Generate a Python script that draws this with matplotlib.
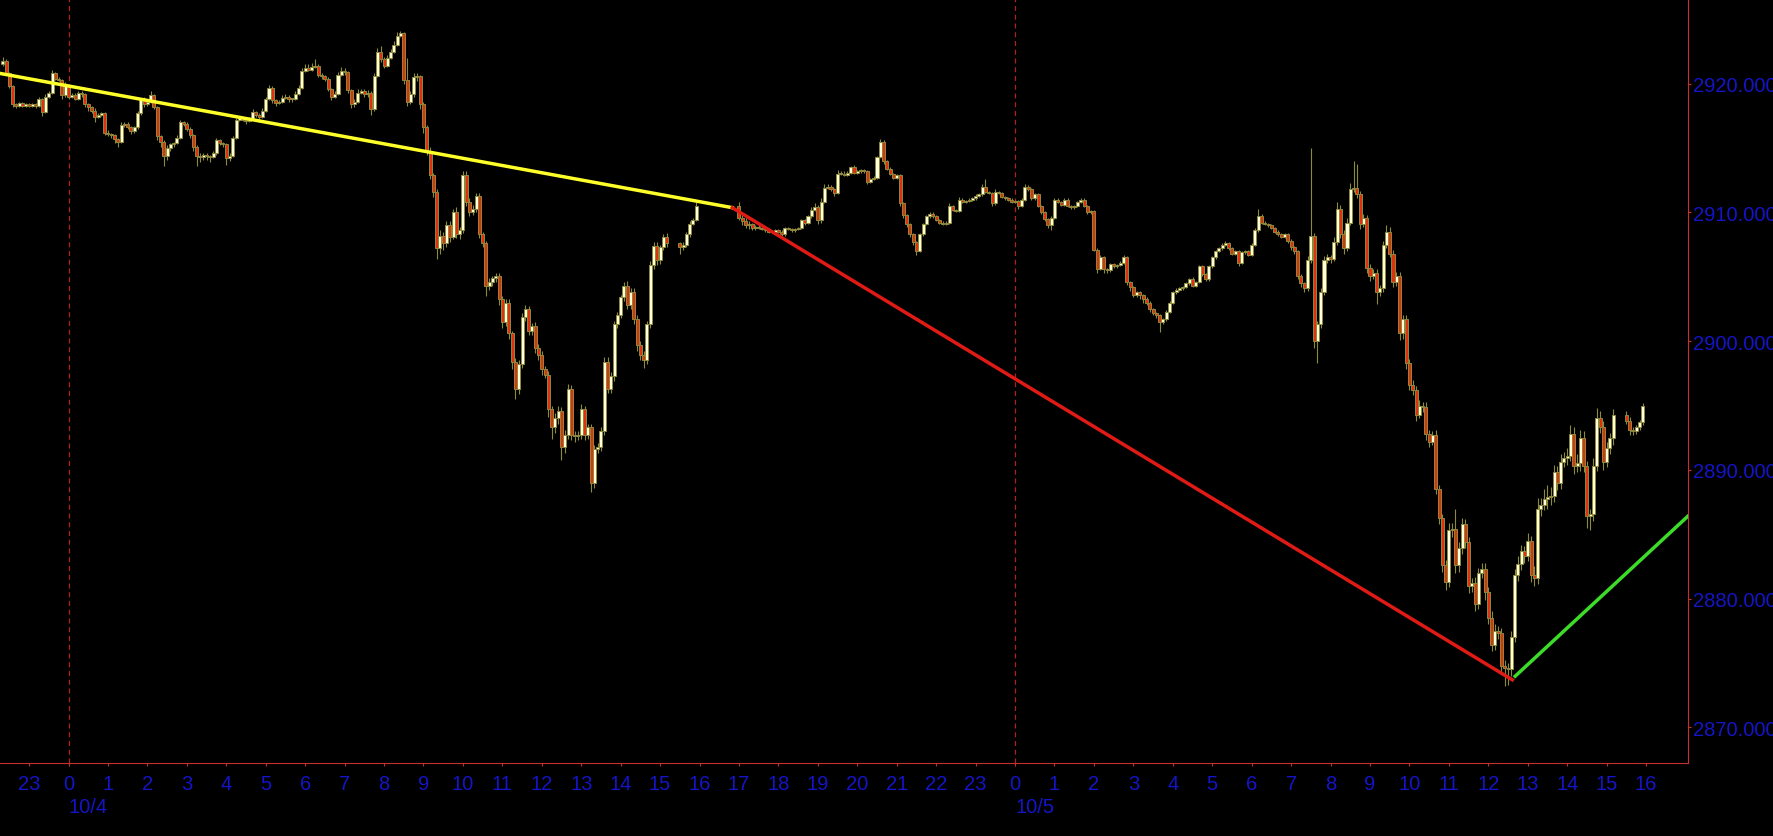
import numpy as np
import matplotlib.pyplot as plt

plt.rcParams['font.family'] = ['Liberation Sans', 'DejaVu Sans']

# ==============================
# Data: 5-minute bars, time in hours counted from 10/4 00:00
# ==============================

session_starts = [-20 / 12, 15.5, 17.0, 39.5]
session_bars = [203, 6, 267, 6]
first_open = 2921.5

closes = [
    # 10/3 22:20 - 23:55
    2921.8, 2920.8, 2919.8, 2918.4, 2918.3, 2918.5, 2918.3, 2918.4, 2918.3, 2918.4,
    2918.3, 2918.8, 2917.8, 2919.0, 2919.3, 2920.8, 2920.4, 2920.3, 2919.1, 2919.9,
    # 10/4 00 - 15:10
    2919.0, 2919.1, 2918.8, 2919.3, 2919.2, 2918.4, 2918.2, 2917.9, 2917.4, 2917.6, 2917.7, 2916.2,
    2916.1, 2916.0, 2915.7, 2915.5, 2916.8, 2916.9, 2916.6, 2916.3, 2916.6, 2917.7, 2918.8, 2918.4,
    2918.6, 2919.1, 2918.2, 2915.9, 2915.5, 2914.4, 2915.0, 2915.3, 2915.4, 2915.8, 2917.0, 2916.9,
    2916.5, 2916.0, 2915.1, 2914.4, 2914.3, 2914.5, 2914.4, 2914.3, 2914.6, 2915.6, 2915.4, 2915.3,
    2914.2, 2914.4, 2915.8, 2917.2, 2917.3, 2917.2, 2917.1, 2917.3, 2917.8, 2917.6, 2917.4, 2917.9,
    2918.8, 2919.7, 2918.7, 2918.5, 2918.6, 2918.9, 2919.0, 2918.8, 2918.8, 2919.2, 2919.7, 2921.0,
    2921.2, 2921.1, 2921.3, 2921.4, 2920.7, 2920.6, 2920.4, 2919.6, 2919.0, 2919.2, 2920.7, 2921.0,
    2920.9, 2919.5, 2918.4, 2918.6, 2919.3, 2919.4, 2919.2, 2919.3, 2918.0, 2920.6, 2922.5, 2921.9,
    2921.4, 2922.0, 2922.5, 2923.0, 2923.7, 2923.9, 2920.3, 2918.6, 2919.2, 2920.5, 2920.6, 2918.4,
    2916.6, 2914.8, 2912.9, 2911.6, 2907.2, 2908.2, 2907.6, 2909.0, 2908.1, 2910.0, 2908.3, 2908.6,
    2912.9, 2910.8, 2910.0, 2910.3, 2911.3, 2908.3, 2907.6, 2904.3, 2904.6, 2904.9, 2905.1, 2903.3,
    2901.5, 2903.0, 2900.6, 2898.4, 2896.3, 2898.2, 2901.9, 2902.5, 2900.8, 2901.2, 2899.5, 2898.9,
    2897.8, 2897.4, 2894.7, 2893.3, 2894.0, 2894.6, 2891.8, 2892.7, 2896.3, 2892.7, 2892.6, 2892.7,
    2894.7, 2892.7, 2893.3, 2889.0, 2891.6, 2891.8, 2893.0, 2898.4, 2896.3, 2897.3, 2901.3, 2902.0,
    2903.4, 2904.3, 2902.8, 2903.8, 2901.7, 2899.7, 2898.9, 2898.5, 2901.3, 2905.9, 2907.4, 2906.3,
    2907.3, 2908.1, 2907.6,
    # 10/4 15:30 - 15:55
    2907.3, 2907.5, 2908.3, 2909.1, 2909.4, 2910.5,
    # 10/4 17:00 - 10/5 15:10
    2909.6, 2909.3, 2909.0, 2909.1, 2908.8, 2908.9, 2908.8, 2908.7, 2908.6, 2908.5, 2908.5, 2908.6,
    2908.5, 2908.3, 2908.8, 2908.7, 2908.6, 2908.7, 2908.8, 2909.4, 2909.2, 2909.7, 2910.2, 2910.4,
    2909.4, 2910.8, 2911.9, 2912.0, 2911.8, 2911.5, 2913.0, 2913.0, 2912.9, 2913.1, 2913.5, 2913.1,
    2913.2, 2913.3, 2913.2, 2912.4, 2912.6, 2912.7, 2914.3, 2915.5, 2914.0, 2913.4, 2913.0, 2912.7,
    2912.9, 2910.7, 2909.8, 2909.1, 2908.3, 2907.7, 2907.0, 2908.3, 2909.1, 2909.7, 2909.9, 2909.7,
    2909.4, 2909.2, 2909.1, 2909.2, 2910.5, 2910.2, 2910.1, 2911.0, 2910.8, 2910.9, 2911.0, 2911.1,
    2911.3, 2911.4, 2912.0, 2911.6, 2911.5, 2910.7, 2911.6, 2911.5, 2911.2, 2911.1, 2911.0, 2910.8,
    2910.9, 2910.5, 2911.0, 2912.0, 2911.8, 2911.1, 2911.4, 2910.5, 2910.0, 2909.5, 2909.0, 2909.6,
    2911.0, 2910.8, 2910.6, 2911.0, 2910.5, 2910.4, 2910.5, 2910.8, 2911.0, 2910.5, 2910.0, 2910.1,
    2907.1, 2905.6, 2906.5, 2905.6, 2905.5, 2906.0, 2905.8, 2905.9, 2906.1, 2906.5, 2904.6, 2904.2,
    2903.6, 2903.8, 2903.6, 2903.3, 2903.0, 2902.5, 2902.2, 2902.0, 2901.5, 2901.7, 2902.3, 2903.0,
    2903.8, 2904.0, 2904.1, 2904.2, 2904.5, 2904.8, 2904.3, 2904.6, 2905.8, 2905.2, 2904.8, 2905.8,
    2906.5, 2907.0, 2907.2, 2907.5, 2907.6, 2907.2, 2906.8, 2907.0, 2906.1, 2906.9, 2907.0, 2906.7,
    2907.5, 2908.6, 2909.7, 2909.2, 2909.1, 2909.0, 2908.8, 2908.5, 2908.3, 2908.1, 2908.3, 2907.8,
    2907.3, 2907.0, 2905.1, 2904.5, 2904.1, 2906.3, 2908.2, 2900.0, 2901.3, 2903.8, 2906.3, 2906.5,
    2906.4, 2907.7, 2910.3, 2908.3, 2907.2, 2909.2, 2911.8, 2911.9, 2911.4, 2909.1, 2909.6, 2905.7,
    2905.1, 2905.3, 2903.8, 2904.1, 2907.5, 2908.5, 2906.8, 2904.6, 2905.1, 2900.6, 2901.7, 2898.3,
    2896.6, 2896.2, 2894.3, 2895.0, 2894.9, 2892.8, 2892.2, 2892.7, 2888.5, 2886.3, 2882.6, 2881.3,
    2885.3, 2885.4, 2882.6, 2883.9, 2885.8, 2884.4, 2881.0, 2881.2, 2879.6, 2882.0, 2882.3, 2880.5,
    2878.5, 2876.4, 2877.5, 2877.3, 2874.8, 2874.6, 2874.5, 2877.0, 2881.8, 2882.7, 2883.7, 2883.3,
    2884.5, 2881.8, 2881.6, 2887.0, 2887.3, 2887.7, 2887.9, 2888.0, 2889.8, 2889.0, 2890.6, 2890.9,
    2891.1, 2892.8, 2890.3, 2890.5, 2892.5, 2890.3, 2886.4, 2886.6, 2890.3, 2894.0, 2893.3, 2890.6,
    2891.7, 2892.5, 2894.3,
    # 10/5 15:30 - 15:55
    2893.8, 2893.1, 2893.0, 2893.3, 2893.7, 2895.0,
]

# upper / lower shadow length of each bar (points above / below the body)
wick_up = [
    0.3, 0.1, 0.1, 0.1, 0.1, 0.1, 0.1, 0.1, 0.1, 0.1,
    0.1, 0.2, 0.1, 0.2, 0.1, 0.3, 0.1, 0.1, 0.1, 0.2,
    0.1, 0.2, 0.2, 0.1, 0.1, 0.1, 0.1, 0.1, 0.2, 0.1, 0.1, 0.1,
    0.2, 0.1, 0.1, 0.1, 0.2, 0.1, 0.1, 0.1, 0.1, 0.2, 0.1, 0.2,
    0.1, 0.3, 0.1, 0.1, 0.1, 0.1, 0.2, 0.1, 0.1, 0.2, 0.2, 0.1,
    0.1, 0.1, 0.1, 0.1, 0.2, 0.1, 0.1, 0.1, 0.2, 0.2, 0.1, 0.1,
    0.1, 0.2, 0.1, 0.1, 0.2, 0.1, 0.1, 0.1, 0.2, 0.1, 0.1, 0.2,
    0.2, 0.2, 0.1, 0.1, 0.1, 0.2, 0.2, 0.1, 0.1, 0.2, 0.2, 0.2,
    0.3, 0.3, 0.3, 0.5, 0.1, 0.1, 0.1, 0.1, 0.1, 0.2, 0.2, 0.3,
    0.2, 0.1, 0.1, 0.2, 0.3, 0.2, 0.2, 0.2, 0.1, 0.2, 0.3, 0.4,
    0.2, 0.2, 0.2, 0.3, 0.3, 0.2, 0.1, 1.7, 0.2, 0.3, 0.2, 0.1,
    0.2, 0.2, 0.3, 0.2, 0.2, 0.4, 0.3, 0.3, 0.3, 0.3, 0.4, 0.3,
    0.3, 0.3, 0.3, 0.3, 0.2, 0.2, 0.2, 0.2, 0.3, 0.2, 0.2, 0.2,
    0.2, 0.3, 0.3, 0.2, 0.3, 0.3, 0.3, 0.3, 0.2, 0.2, 0.3, 0.3,
    0.3, 0.3, 0.3, 0.3, 0.4, 0.4, 0.3, 0.4, 0.4, 0.3, 0.3, 0.3,
    0.4, 0.3, 0.3, 0.3, 0.3, 0.3, 0.3, 0.4, 0.4, 0.3, 0.3, 0.3,
    0.2, 0.3, 0.4, 0.3, 0.3, 0.3, 0.3, 0.3, 0.3, 0.3, 0.3, 0.3,
    0.2, 0.2, 0.3,
    0.1, 0.2, 0.2, 0.2, 0.2, 0.3,
    0.3, 0.2, 0.3, 0.2, 0.1, 0.1, 0.2, 0.1, 0.1, 0.1, 0.1, 0.1,
    0.1, 0.1, 0.1, 0.1, 0.1, 0.1, 0.1, 0.1, 0.1, 0.1, 0.2, 0.3,
    0.2, 0.3, 0.3, 0.2, 0.1, 0.1, 0.3, 0.2, 0.2, 0.1, 0.1, 0.2,
    0.1, 0.1, 0.1, 0.1, 0.1, 0.1, 0.1, 0.2, 0.1, 0.1, 0.1, 0.1,
    0.1, 0.1, 0.1, 0.1, 0.1, 0.1, 0.1, 0.1, 0.1, 0.1, 0.1, 0.1,
    0.1, 0.1, 0.1, 0.1, 0.2, 0.1, 0.1, 0.2, 0.1, 0.1, 0.1, 0.1,
    0.1, 0.1, 0.2, 0.6, 0.1, 0.1, 0.2, 0.1, 0.1, 0.1, 0.1, 0.1,
    0.1, 0.1, 0.1, 0.2, 0.1, 0.1, 0.1, 0.1, 0.1, 0.1, 0.1, 0.1,
    0.1, 0.1, 0.1, 0.1, 0.1, 0.1, 0.1, 0.1, 0.1, 0.1, 0.1, 0.1,
    0.1, 0.1, 0.2, 0.1, 0.1, 0.1, 0.1, 0.1, 0.1, 0.2, 0.1, 0.1,
    0.1, 0.1, 0.1, 0.1, 0.1, 0.1, 0.1, 0.1, 0.1, 0.1, 0.1, 0.1,
    0.1, 0.1, 0.1, 0.1, 0.1, 0.1, 0.2, 0.1, 0.1, 0.1, 0.1, 0.1,
    0.1, 0.1, 0.1, 0.1, 0.2, 0.1, 0.1, 0.1, 0.1, 0.1, 0.1, 0.1,
    0.1, 0.2, 0.6, 0.2, 0.1, 0.1, 0.1, 0.1, 0.1, 0.1, 0.1, 0.1,
    0.1, 0.1, 0.1, 0.1, 0.1, 0.3, 6.8, 0.2, 0.3, 0.3, 0.3, 0.3,
    0.2, 0.4, 0.5, 0.3, 0.3, 0.4, 0.5, 2.1, 1.9, 0.3, 0.3, 0.2,
    0.3, 0.3, 0.3, 0.3, 0.3, 0.5, 0.4, 0.3, 0.3, 0.3, 0.3, 0.3,
    0.3, 0.4, 0.3, 0.4, 0.3, 0.4, 0.3, 0.3, 0.4, 0.3, 0.3, 0.4,
    0.6, 0.5, 1.6, 0.5, 0.5, 0.4, 0.4, 0.4, 0.5, 0.4, 0.5, 0.5,
    0.4, 0.5, 0.5, 0.4, 0.4, 0.4, 0.4, 0.5, 0.5, 0.6, 0.5, 0.4,
    0.6, 0.4, 0.7, 0.8, 0.5, 0.8, 0.9, 0.7, 0.6, 0.5, 0.6, 0.5,
    0.6, 0.7, 0.5, 0.7, 0.6, 0.5, 0.4, 0.4, 0.6, 0.8, 0.6, 0.5,
    0.5, 0.4, 0.4,
    0.3, 0.3, 0.2, 0.2, 0.2, 0.2,
]

wick_dn = [
    0.1, 0.1, 0.1, 0.2, 0.2, 0.1, 0.1, 0.1, 0.1, 0.1,
    0.2, 0.1, 0.3, 0.1, 0.1, 0.1, 0.1, 0.1, 0.3, 0.1,
    0.2, 0.1, 0.1, 0.1, 0.2, 0.2, 0.3, 0.2, 0.4, 0.1, 0.1, 0.2,
    0.2, 0.2, 0.3, 0.4, 0.1, 0.2, 0.1, 0.2, 0.1, 0.1, 0.1, 0.2,
    0.1, 0.1, 0.2, 0.3, 0.4, 0.8, 0.3, 0.2, 0.2, 0.1, 0.1, 0.2,
    0.2, 0.2, 0.3, 0.8, 0.4, 0.2, 0.3, 0.4, 0.1, 0.1, 0.2, 0.2,
    0.5, 0.2, 0.1, 0.1, 0.1, 0.1, 0.2, 0.1, 0.1, 0.2, 0.2, 0.1,
    0.1, 0.1, 0.2, 0.2, 0.1, 0.1, 0.1, 0.2, 0.2, 0.1, 0.1, 0.1,
    0.1, 0.1, 0.1, 0.1, 0.2, 0.2, 0.2, 0.2, 0.3, 0.1, 0.1, 0.1,
    0.2, 0.2, 0.3, 0.2, 0.1, 0.1, 0.2, 0.2, 0.4, 0.1, 0.1, 0.2,
    0.2, 0.1, 0.1, 0.1, 0.1, 0.1, 0.3, 0.3, 0.2, 0.2, 0.3, 0.4,
    0.4, 0.3, 0.3, 0.4, 0.8, 0.4, 0.5, 0.3, 0.4, 0.2, 0.3, 0.4,
    0.2, 0.3, 0.3, 0.2, 0.3, 0.3, 0.3, 0.8, 0.3, 0.3, 0.3, 0.5,
    0.5, 0.3, 0.4, 0.6, 0.8, 0.4, 0.3, 0.3, 0.3, 0.3, 0.4, 0.4,
    0.4, 0.3, 0.6, 0.9, 0.4, 0.4, 1.0, 0.5, 0.3, 0.4, 0.4, 0.3,
    0.3, 0.4, 0.3, 0.7, 0.4, 0.3, 0.3, 0.3, 0.3, 0.3, 0.4, 0.3,
    0.2, 0.3, 0.3, 0.3, 0.4, 0.5, 0.4, 0.6, 0.3, 0.3, 0.3, 0.4,
    0.3, 0.2, 0.3,
    0.5, 0.2, 0.2, 0.2, 0.1, 0.1,
    0.2, 0.3, 0.2, 0.3, 0.2, 0.2, 0.1, 0.1, 0.1, 0.1, 0.1, 0.1,
    0.1, 0.1, 0.1, 0.1, 0.1, 0.1, 0.1, 0.1, 0.2, 0.1, 0.1, 0.1,
    0.3, 0.2, 0.1, 0.1, 0.1, 0.2, 0.1, 0.1, 0.1, 0.1, 0.1, 0.1,
    0.1, 0.1, 0.1, 0.2, 0.1, 0.1, 0.1, 0.1, 0.2, 0.1, 0.1, 0.1,
    0.1, 0.2, 0.2, 0.2, 0.2, 0.2, 0.3, 0.1, 0.1, 0.1, 0.1, 0.1,
    0.1, 0.1, 0.1, 0.1, 0.1, 0.1, 0.1, 0.1, 0.1, 0.1, 0.1, 0.1,
    0.1, 0.1, 0.1, 0.1, 0.1, 0.2, 0.1, 0.1, 0.1, 0.1, 0.1, 0.1,
    0.1, 0.2, 0.1, 0.1, 0.1, 0.1, 0.1, 0.1, 0.1, 0.2, 0.2, 0.4,
    0.1, 0.1, 0.1, 0.1, 0.1, 0.1, 0.1, 0.1, 0.1, 0.1, 0.1, 0.1,
    0.1, 0.3, 0.1, 0.3, 0.2, 0.1, 0.1, 0.1, 0.1, 0.1, 0.2, 0.3,
    0.2, 0.2, 0.3, 0.3, 0.2, 0.2, 0.2, 0.2, 0.8, 0.2, 0.1, 0.1,
    0.1, 0.1, 0.1, 0.1, 0.1, 0.1, 0.1, 0.1, 0.1, 0.1, 0.1, 0.1,
    0.1, 0.1, 0.1, 0.1, 0.1, 0.1, 0.1, 0.1, 0.3, 0.1, 0.1, 0.1,
    0.1, 0.1, 0.1, 0.1, 0.1, 0.1, 0.1, 0.1, 0.1, 0.1, 0.1, 0.2,
    0.2, 0.2, 0.3, 0.3, 0.3, 0.2, 0.2, 0.5, 1.7, 0.3, 0.2, 0.2,
    0.3, 0.2, 0.2, 0.3, 0.4, 0.2, 0.2, 0.2, 0.3, 0.4, 0.2, 0.4,
    0.4, 0.3, 0.9, 0.3, 0.3, 0.3, 0.3, 0.4, 0.3, 0.5, 0.4, 0.5,
    0.4, 0.4, 0.5, 0.3, 0.4, 0.5, 0.4, 0.3, 0.4, 0.5, 0.5, 0.6,
    0.4, 0.5, 0.6, 0.5, 0.4, 0.5, 0.6, 0.5, 0.6, 0.4, 0.4, 0.6,
    0.5, 0.5, 0.4, 0.4, 0.6, 1.4, 1.2, 0.5, 0.4, 0.4, 0.5, 0.5,
    0.4, 0.5, 0.6, 0.5, 0.6, 0.4, 0.7, 0.6, 0.5, 0.6, 0.5, 0.4,
    0.5, 0.4, 0.6, 0.5, 0.6, 0.5, 0.9, 1.1, 0.6, 0.4, 0.4, 0.6,
    0.4, 0.5, 0.6,
    0.2, 0.4, 0.3, 0.2, 0.2, 0.2,
]

# trend lines drawn on the chart: (hours, price) end points
yellow_line_t = [-1.74, 16.83]
yellow_line_p = [2920.8, 2910.37]
red_line_t = [16.83, 36.61]
red_line_p = [2910.37, 2873.69]
green_line_t = [36.68, 41.2]
green_line_p = [2873.97, 2886.8]

price_ticks = [2870, 2880, 2890, 2900, 2910, 2920]
hour_ticks = list(range(-1, 41))
date_labels = ["10/4", "10/5"]
date_hours = [0, 24]

UP_FILL = "#FFFFDC"
DOWN_FILL = "#E0300E"
EDGE = "#8E8A3C"
AXIS_RED = "#C83030"
LABEL_BLUE = "#1414C8"


# ==============================
# Build OHLC
# ==============================

times = np.concatenate([s + np.arange(n) / 12 for s, n in zip(session_starts, session_bars)])
closes = np.array(closes)
opens = np.concatenate([[first_open], closes[:-1]])
highs = np.maximum(opens, closes) + np.array(wick_up)
lows = np.minimum(opens, closes) - np.array(wick_dn)


# ==============================
# Chart
# ==============================

fig = plt.figure(figsize=(17.73, 8.37), dpi=100, facecolor="black")
ax = fig.add_axes([0, 73 / 837, 1688 / 1773, 764 / 837], facecolor="black")

ax.vlines(times, lows, highs, color=EDGE, linewidth=0.8, zorder=2)

up = closes >= opens
body_bottom = np.minimum(opens, closes)
body_height = np.maximum(np.abs(closes - opens), 0.08)
ax.bar(times[up], body_height[up], bottom=body_bottom[up], width=0.92 / 12,
       color=UP_FILL, edgecolor=EDGE, linewidth=0.7, zorder=3)
ax.bar(times[~up], body_height[~up], bottom=body_bottom[~up], width=0.92 / 12,
       color=DOWN_FILL, edgecolor=EDGE, linewidth=0.7, zorder=3)

for h in date_hours:
    ax.axvline(h, color="#B02222", linewidth=0.9, linestyle=(0, (4, 3)), zorder=1)

ax.plot(yellow_line_t, yellow_line_p, color="#FFFF2A", linewidth=2.5, zorder=4)
ax.plot(red_line_t, red_line_p, color="#E01A14", linewidth=2.5, zorder=4)
ax.plot(green_line_t, green_line_p, color="#3CDC28", linewidth=2.5, zorder=4)

ax.set_xlim(-1.737, 41.063)
ax.set_ylim(2867.23, 2926.58)

ax.set_xticks(hour_ticks)
ax.set_xticklabels([str(h % 24) for h in hour_ticks])
ax.yaxis.tick_right()
ax.set_yticks(price_ticks)
ax.set_yticklabels([f"{p:.3f}" for p in price_ticks])

ax.tick_params(axis="x", colors=AXIS_RED, labelcolor=LABEL_BLUE, length=2.2,
               width=0.8, pad=6, labelsize=14.5)
ax.tick_params(axis="y", colors=AXIS_RED, labelcolor=LABEL_BLUE, length=1.8,
               width=0.8, pad=1.5, labelsize=14.5)

for side in ["left", "top"]:
    ax.spines[side].set_visible(False)
for side in ["right", "bottom"]:
    ax.spines[side].set_color(AXIS_RED)
    ax.spines[side].set_linewidth(0.8)

for h, lab in zip(date_hours, date_labels):
    ax.text(h, -0.045, lab, transform=ax.get_xaxis_transform(), ha="left", va="top",
            color=LABEL_BLUE, fontsize=14.5)

fig.savefig("out.png", dpi=100, facecolor="black")
